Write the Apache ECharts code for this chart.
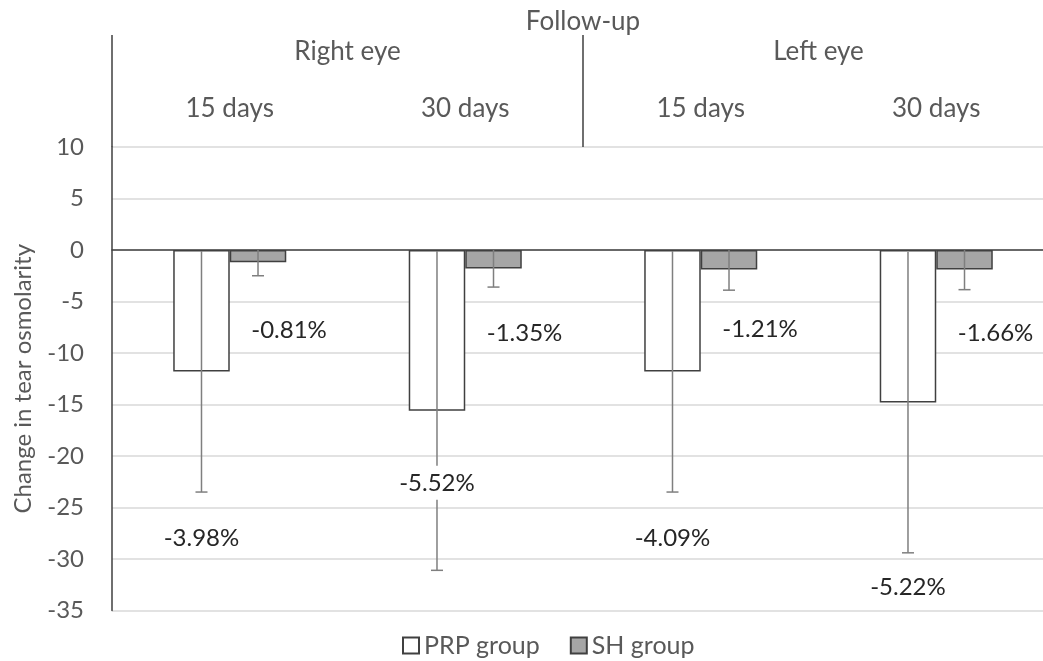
<!DOCTYPE html>
<html>
<head>
<meta charset="utf-8">
<script src="https://cdn.jsdelivr.net/npm/echarts@6/dist/echarts.min.js"></script>
<style>html,body{margin:0;padding:0;background:#fff}#c{width:1043px;height:661px}</style>
</head>
<body>
<div id="c"></div>
<script>
const dayLabels = ['15 days', '30 days', '15 days', '30 days'];
const eyeLabels = ['Right eye', 'Left eye'];
const headerTitle = 'Follow-up';
const yTitle = 'Change in tear osmolarity';
const seriesNames = ['PRP group', 'SH group'];
const prpValues = [-11.8, -15.6, -11.8, -14.8];
const shValues = [-1.2, -1.8, -1.9, -1.9];
const prpErr = [11.7, 15.5, 11.7, 14.6];
const shErr = [1.3, 1.8, 2.0, 1.95];
const prpPct = ['-3.98%', '-5.52%', '-4.09%', '-5.22%'];
const shPct = ['-0.81%', '-1.35%', '-1.21%', '-1.66%'];
const prpPctAt = [-28, -22.6, -28, -32.7];
const shPctAt = [-7.8, -8.1, -7.7, -8.1];
const yMin = -35, yMax = 10, yStep = 5;

const TXT = '#595959';
const FONT = 'Lato';
const GAP = 0.52;

function barCenter(api, idx, side) {
  const x = api.coord([idx, 0])[0];
  const band = api.size([1, 0])[0];
  const bw = band * (1 - GAP) / 2;
  return x + side * bw / 2;
}

function errRender(side) {
  return function (params, api) {
    const idx = api.value(0);
    const v = api.value(1), e = api.value(2);
    const cx = barCenter(api, idx, side);
    const lo = api.coord([idx, v - e])[1];
    const hi = api.coord([idx, Math.min(0, v + e)])[1];
    const st = { stroke: '#7f7f7f', lineWidth: 1.5 };
    const cw = 6;
    return {
      type: 'group',
      children: [
        { type: 'line', shape: { x1: cx, y1: lo, x2: cx, y2: hi }, style: st },
        { type: 'line', shape: { x1: cx - cw, y1: lo, x2: cx + cw, y2: lo }, style: st }
      ]
    };
  };
}

function labelRender(side, texts, dx) {
  return function (params, api) {
    const idx = api.value(0);
    const cx = barCenter(api, idx, side) + dx;
    const cy = api.coord([idx, api.value(1)])[1];
    return {
      type: 'text',
      x: cx, y: cy,
      style: {
        text: texts[params.dataIndex],
        fontFamily: FONT, fontSize: 24, fill: '#262626',
        align: 'center', verticalAlign: 'middle',
        backgroundColor: '#fff', padding: [3, 2], lineHeight: 28
      }
    };
  };
}

const chart = echarts.init(document.getElementById('c'), null, { renderer: 'canvas' });
chart.setOption({
  animation: false,
  backgroundColor: '#fff',
  textStyle: { fontFamily: FONT },
  grid: { left: 112, top: 147, width: 942, height: 463.5, outerBoundsMode: 'none', containLabel: false },
  legend: {
    left: 397, top: 628, icon: 'rect',
    itemWidth: 16, itemHeight: 16, itemGap: 30,
    textStyle: { fontFamily: FONT, fontSize: 25, color: TXT },
    data: seriesNames
  },
  xAxis: [
    {
      type: 'category', data: dayLabels, position: 'bottom',
      axisLine: { show: true, onZero: true, lineStyle: { color: '#404040', width: 1.5 } },
      axisTick: { show: false }, axisLabel: { show: false }, splitLine: { show: false }
    },
    {
      type: 'category', data: dayLabels, position: 'top', offset: 0,
      axisLine: { show: false }, axisTick: { show: false },
      axisLabel: { fontFamily: FONT, fontSize: 26, color: TXT, margin: 25 }
    },
    {
      type: 'category', data: eyeLabels, position: 'top', offset: 0,
      axisLine: { show: false },
      axisTick: { show: true, length: 112, lineStyle: { color: '#404040', width: 1.5 } },
      axisLabel: { fontFamily: FONT, fontSize: 26, color: TXT, margin: 82 },
      name: headerTitle, nameLocation: 'middle', nameGap: 112, nameMoveOverlap: false,
      nameTextStyle: { fontFamily: FONT, fontSize: 26, color: TXT }
    }
  ],
  yAxis: {
    type: 'value', min: yMin, max: yMax, interval: yStep,
    axisLine: { show: true, lineStyle: { color: '#3f3f3f', width: 1.5 } },
    axisTick: { show: false },
    splitLine: { show: true, lineStyle: { color: '#d9d9d9', width: 1.5 } },
    axisLabel: { fontFamily: FONT, fontSize: 24, color: TXT, margin: 28 },
    name: yTitle, nameLocation: 'middle', nameGap: 77, nameMoveOverlap: false,
    nameTextStyle: { fontFamily: FONT, fontSize: 24, color: TXT }
  },
  series: [
    {
      name: seriesNames[0], type: 'bar', data: prpValues, xAxisIndex: 0,
      barGap: '0%', barCategoryGap: (GAP * 100) + '%', z: 2,
      itemStyle: { color: '#ffffff', borderColor: '#404040', borderWidth: 1.5 }
    },
    {
      name: seriesNames[1], type: 'bar', data: shValues, xAxisIndex: 0,
      barGap: '0%', barCategoryGap: (GAP * 100) + '%', z: 2,
      itemStyle: { color: '#a6a6a6', borderColor: '#404040', borderWidth: 1.5 }
    },
    {
      type: 'custom', xAxisIndex: 0, z: 3, silent: true,
      renderItem: errRender(-1),
      data: prpValues.map((v, i) => [i, v, prpErr[i]])
    },
    {
      type: 'custom', xAxisIndex: 0, z: 3, silent: true,
      renderItem: errRender(1),
      data: shValues.map((v, i) => [i, v, shErr[i]])
    },
    {
      type: 'custom', xAxisIndex: 0, z: 4, silent: true,
      renderItem: labelRender(-1, prpPct, 0),
      data: prpPctAt.map((v, i) => [i, v])
    },
    {
      type: 'custom', xAxisIndex: 0, z: 4, silent: true,
      renderItem: labelRender(1, shPct, 31),
      data: shPctAt.map((v, i) => [i, v])
    }
  ]
});
</script>
</body>
</html>
